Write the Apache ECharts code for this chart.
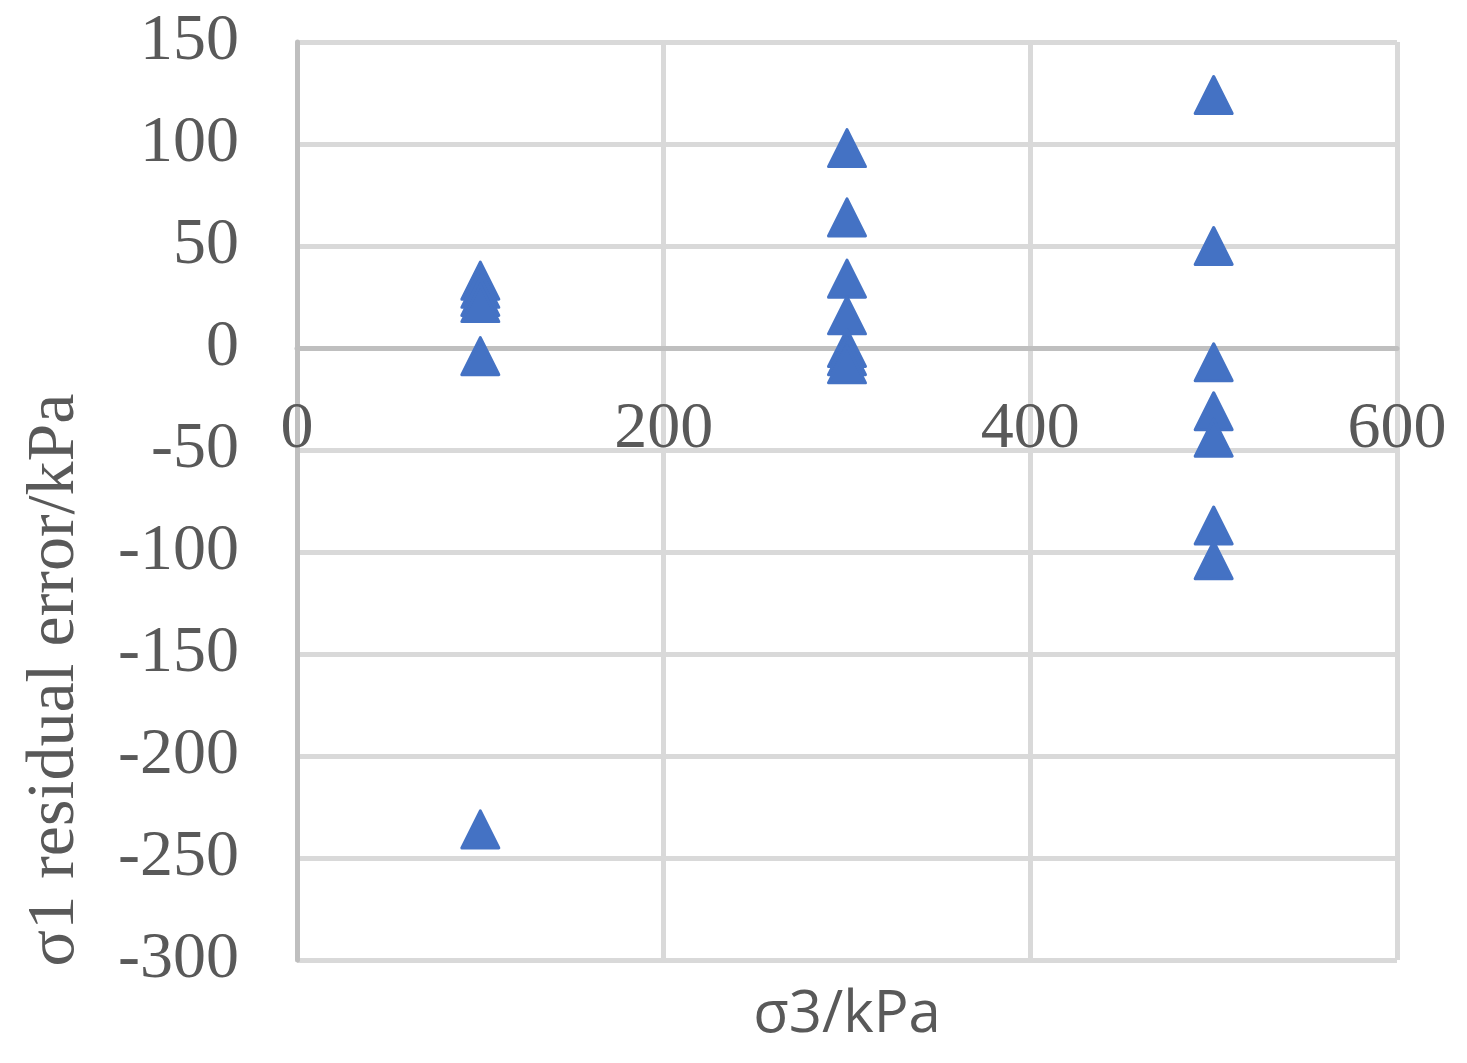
<!DOCTYPE html>
<html>
<head>
<meta charset="utf-8">
<script src="https://cdn.jsdelivr.net/npm/echarts@6/dist/echarts.min.js"></script>
<style>
  html, body { margin: 0; padding: 0; background: #fff; }
  #chart { width: 1467px; height: 1063px; }
</style>
</head>
<body>
<div id="chart"></div>
<script>
// σ3 levels and the σ1 residuals read at each one
const sigma3 = [100, 300, 500];
const residualAt100 = [33, 29, 25, 22, -4, -236];
const residualAt300 = [98, 64, 34, 16, 0, -4, -8];
const residualAt500 = [124, 50, -7, -31, -44, -87, -104];
const xTicks = [0, 200, 400, 600];
const yTicks = [-300, -250, -200, -150, -100, -50, 0, 50, 100, 150];

const groups = [residualAt100, residualAt300, residualAt500];
const points = [];
groups.forEach((vals, i) => vals.forEach((v) => points.push([sigma3[i], v])));

const tickFont = { color: "#595959", fontFamily: "Liberation Serif", fontSize: 66 };

const gridTop = 42, gridBottom = 103, plotH = 1063 - gridTop - gridBottom;
// x axis sits on y = 0, labels hang under it
const zeroOffset = plotH * (0 - yTicks[0]) / (yTicks[yTicks.length - 1] - yTicks[0]);

const chart = echarts.init(document.getElementById("chart"), null, { renderer: "canvas" });
chart.setOption({
  backgroundColor: "#fff",
  animation: false,
  grid: { left: 297, right: 70, top: gridTop, bottom: gridBottom, outerBoundsMode: "none" },
  xAxis: {
    type: "value",
    min: xTicks[0], max: xTicks[xTicks.length - 1], interval: 200,
    position: "bottom",
    offset: -zeroOffset,
    axisLine: { show: true, onZero: false, lineStyle: { color: "#bfbfbf", width: 5 } },
    axisTick: { show: false },
    axisLabel: { ...tickFont, margin: 49 },
    splitLine: { lineStyle: { color: "#d9d9d9", width: 5 } },
  },
  yAxis: {
    type: "value",
    min: yTicks[0], max: yTicks[yTicks.length - 1], interval: 50,
    axisLine: { show: true, onZero: false, lineStyle: { color: "#bfbfbf", width: 5 } },
    axisTick: { show: false },
    axisLabel: { ...tickFont, margin: 58 },
    splitLine: { lineStyle: { color: "#d9d9d9", width: 5 } },
  },
  graphic: [
    {
      type: "text", x: 55, y: 680, rotation: Math.PI / 2,
      style: {
        text: "σ1 residual error/kPa", fill: "#595959",
        fontFamily: "Liberation Serif", fontSize: 68,
        align: "center", verticalAlign: "middle",
      },
    },
    {
      type: "text", x: 847, y: 1015,
      style: {
        text: "σ3/kPa", fill: "#595959",
        fontFamily: "Open Sans", fontSize: 58,
        align: "center", verticalAlign: "middle",
      },
    },
  ],
  series: [{
    type: "scatter",
    data: points,
    symbol: "triangle",
    symbolSize: [37, 37],
    itemStyle: {
      color: "#4472c4", opacity: 1,
      borderColor: "#4472c4", borderWidth: 3, borderJoin: "round",
    },
  }],
});
</script>
</body>
</html>
